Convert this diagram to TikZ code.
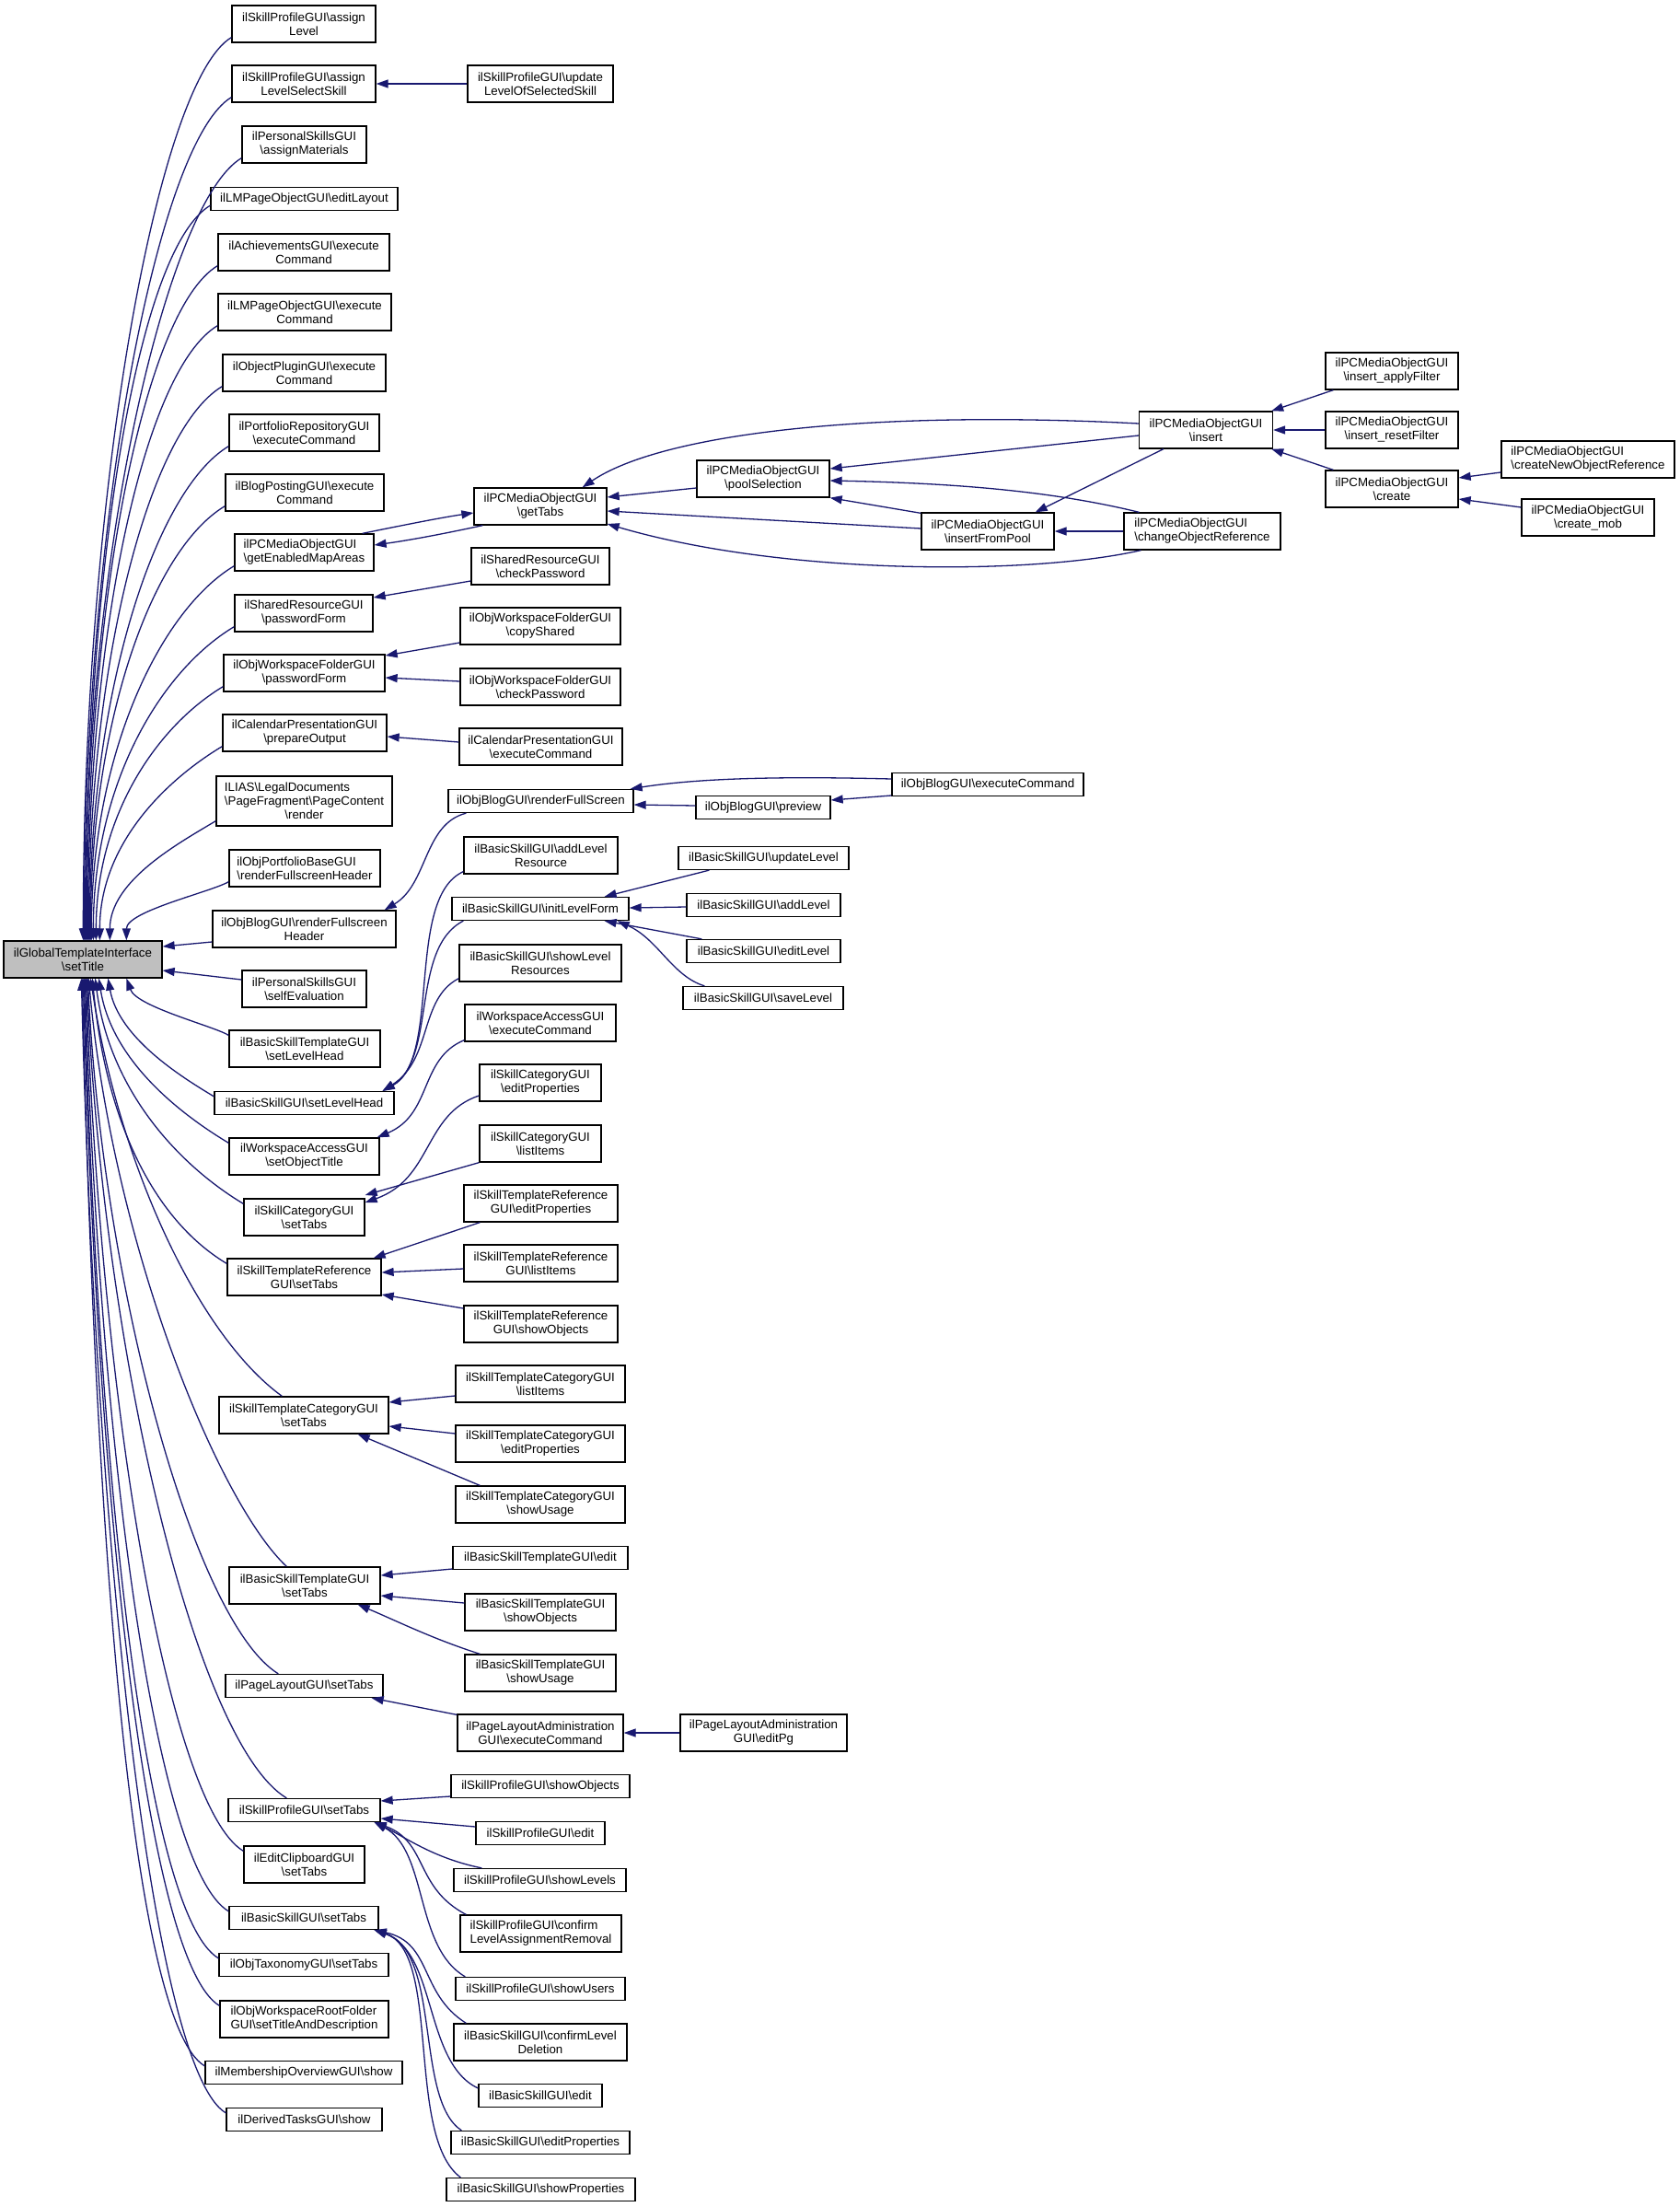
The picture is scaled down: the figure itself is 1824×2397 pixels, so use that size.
\documentclass[tikz,border=0pt]{standalone}
\usepackage{fontspec}
\setmainfont{Liberation Sans}
\usetikzlibrary{arrows.meta,calc}
\definecolor{eblue}{RGB}{25,25,112}
\definecolor{rootgray}{RGB}{191,191,191}
\newcommand{\bsh}{\textbackslash{}}
\newcommand{\upe}[3]{\draw[callarrow] let \p1=($(#1.south west)+(0,-6)$), \p2=($(root.north west)+(#2-4,0)$) in (\p1) .. controls ($(\p1)+(-#3,0.6*#3)$) and (\x2,{0.5*(\y1+\y2)}) .. (\p2);}
\newcommand{\dne}[3]{\draw[callarrow] let \p1=($(#1.north west)+(0,6)$), \p2=($(root.south west)+(#2-4,0)$) in (\p1) .. controls ($(\p1)+(-#3,-0.6*#3)$) and ({\x2+0.1*(\x1-\x2)},{0.5*(\y1+\y2)}) .. (\p2);}
\newcommand{\gne}[4]{\draw[callarrow] let \p1=(#1), \p2=($(root.south west)+(#3-4,0)$) in (\p1) .. controls ($(\p1)+#2$) and ({\x2+#4*(\x1-\x2)},{\y2+0.45*(\y1-\y2)}) .. (\p2);}
\begin{document}
\begin{tikzpicture}[x=1pt,y=-1pt,
  font=\fontsize{13.3}{15}\selectfont,
  nbox/.style={draw=black, line width=1.3pt, fill=white, inner xsep=2pt, inner ysep=0pt, align=center},
  lone/.style={nbox, minimum height=25},
  ltwo/.style={nbox, minimum height=40},
  lthree/.style={nbox, minimum height=54},
  callarrow/.style={draw=eblue, line width=1.3pt, -{Triangle[length=13pt,width=9pt]}}]
\fill[white] (0,0) rectangle (1824,2397);
\useasboundingbox (0,0) rectangle (1824,2397);

% column 2 (above root)
\node[ltwo, minimum width=156] (a1) at (330,26) {ilSkillProfileGUI\bsh assign\\Level};
\node[ltwo, minimum width=156] (a2) at (330,91) {ilSkillProfileGUI\bsh assign\\LevelSelectSkill};
\node[ltwo, minimum width=135] (a3) at (330.5,157) {ilPersonalSkillsGUI\\\bsh assignMaterials};
\node[lone, minimum width=203] (a4) at (330.5,216) {ilLMPageObjectGUI\bsh editLayout};
\node[ltwo, minimum width=186] (a5) at (330,274) {ilAchievementsGUI\bsh execute\\Command};
\node[ltwo, minimum width=188] (a6) at (331,339) {ilLMPageObjectGUI\bsh execute\\Command};
\node[ltwo, minimum width=177] (a7) at (330.5,405) {ilObjectPluginGUI\bsh execute\\Command};
\node[ltwo, minimum width=163] (a8) at (330.5,470) {ilPortfolioRepositoryGUI\\\bsh executeCommand};
\node[ltwo, minimum width=172] (a9) at (331,535) {ilBlogPostingGUI\bsh execute\\Command};
\node[ltwo, minimum width=151, align=left] (a10) at (330.5,600) {ilPCMediaObjectGUI\\\bsh getEnabledMapAreas};
\node[ltwo, minimum width=150] (a11) at (330,666) {ilSharedResourceGUI\\\bsh passwordForm};
\node[ltwo, minimum width=175] (a12) at (330.5,731) {ilObjWorkspaceFolderGUI\\\bsh passwordForm};
\node[ltwo, minimum width=178] (a13) at (331,796) {ilCalendarPresentationGUI\\\bsh prepareOutput};
\node[lthree, minimum width=191] (a14) at (330.5,870) {\rlap{ILIAS\bsh LegalDocuments}\phantom{\bsh PageFragment\bsh PageContent}\\\bsh PageFragment\bsh PageContent\\\bsh render};
\node[ltwo, minimum width=164, align=left] (a15) at (331,943) {ilObjPortfolioBaseGUI\\\bsh renderFullscreenHeader};
\node[ltwo, minimum width=199] (a16) at (330.5,1009) {ilObjBlogGUI\bsh renderFullscreen\\Header};

% root
\node[ltwo, minimum width=172, fill=rootgray] (root) at (90,1042) {ilGlobalTemplateInterface\\\bsh setTitle};

% column 2 (below root)
\node[ltwo, minimum width=135] (b1) at (330.5,1074) {ilPersonalSkillsGUI\\\bsh selfEvaluation};
\node[ltwo, minimum width=164] (b2) at (331,1139) {ilBasicSkillTemplateGUI\\\bsh setLevelHead};
\node[lone, minimum width=195] (b3) at (330.5,1198) {ilBasicSkillGUI\bsh setLevelHead};
\node[ltwo, minimum width=163] (b4) at (330.5,1256) {ilWorkspaceAccessGUI\\\bsh setObjectTitle};
\node[ltwo, minimum width=131] (b5) at (330.5,1322) {ilSkillCategoryGUI\\\bsh setTabs};
\node[ltwo, minimum width=167] (b6) at (330.5,1387) {ilSkillTemplateReference\\GUI\bsh setTabs};
\node[ltwo, minimum width=184] (b7) at (330,1537) {ilSkillTemplateCategoryGUI\\\bsh setTabs};
\node[ltwo, minimum width=164] (b8) at (331,1722) {ilBasicSkillTemplateGUI\\\bsh setTabs};
\node[lone, minimum width=171] (b9) at (330.5,1831) {ilPageLayoutGUI\bsh setTabs};
\node[lone, minimum width=165] (b10) at (330.5,1966) {ilSkillProfileGUI\bsh setTabs};
\node[ltwo, minimum width=131] (b11) at (330.5,2025) {ilEditClipboardGUI\\\bsh setTabs};
\node[lone, minimum width=162] (b12) at (330,2083) {ilBasicSkillGUI\bsh setTabs};
\node[lone, minimum width=184] (b13) at (330,2134) {ilObjTaxonomyGUI\bsh setTabs};
\node[ltwo, minimum width=183, align=left] (b14) at (330.5,2193) {ilObjWorkspaceRootFolder\\GUI\bsh setTitleAndDescription};
\node[lone, minimum width=214] (b15) at (330,2251) {ilMembershipOverviewGUI\bsh show};
\node[lone, minimum width=169] (b16) at (330.5,2302) {ilDerivedTasksGUI\bsh show};

% column 3
\node[ltwo, minimum width=158] (c1) at (587,91) {ilSkillProfileGUI\bsh update\\LevelOfSelectedSkill};
\node[ltwo, minimum width=144] (c2) at (587,550) {ilPCMediaObjectGUI\\\bsh getTabs};
\node[ltwo, minimum width=150] (c3) at (587,615) {ilSharedResourceGUI\\\bsh checkPassword};
\node[ltwo, minimum width=174] (c4) at (587,680) {ilObjWorkspaceFolderGUI\\\bsh copyShared};
\node[ltwo, minimum width=174] (c5) at (587,746) {ilObjWorkspaceFolderGUI\\\bsh checkPassword};
\node[ltwo, minimum width=177] (c6) at (587.5,811) {ilCalendarPresentationGUI\\\bsh executeCommand};
\node[lone, minimum width=201] (c7) at (587.5,870) {ilObjBlogGUI\bsh renderFullScreen};
\node[ltwo, minimum width=167] (c8) at (587.5,929) {ilBasicSkillGUI\bsh addLevel\\Resource};
\node[lone, minimum width=192] (c9) at (587,987) {ilBasicSkillGUI\bsh initLevelForm};
\node[ltwo, minimum width=176] (c10) at (587,1046) {ilBasicSkillGUI\bsh showLevel\\Resources};
\node[ltwo, minimum width=164] (c11) at (587,1111) {ilWorkspaceAccessGUI\\\bsh executeCommand};
\node[ltwo, minimum width=132] (c12) at (587,1176) {ilSkillCategoryGUI\\\bsh editProperties};
\node[ltwo, minimum width=132] (c13) at (587,1242) {ilSkillCategoryGUI\\\bsh listItems};
\node[ltwo, minimum width=167] (c14) at (587.5,1307) {ilSkillTemplateReference\\GUI\bsh editProperties};
\node[ltwo, minimum width=167] (c15) at (587.5,1372) {ilSkillTemplateReference\\GUI\bsh listItems};
\node[ltwo, minimum width=167] (c16) at (587.5,1438) {ilSkillTemplateReference\\GUI\bsh showObjects};
\node[ltwo, minimum width=184] (c17) at (587,1503) {ilSkillTemplateCategoryGUI\\\bsh listItems};
\node[ltwo, minimum width=184] (c18) at (587,1568) {ilSkillTemplateCategoryGUI\\\bsh editProperties};
\node[ltwo, minimum width=184] (c19) at (587,1634) {ilSkillTemplateCategoryGUI\\\bsh showUsage};
\node[lone, minimum width=190] (c20) at (587,1692) {ilBasicSkillTemplateGUI\bsh edit};
\node[ltwo, minimum width=164] (c21) at (587,1751) {ilBasicSkillTemplateGUI\\\bsh showObjects};
\node[ltwo, minimum width=164] (c22) at (587,1817) {ilBasicSkillTemplateGUI\\\bsh showUsage};
\node[ltwo, minimum width=180] (c23) at (587,1882) {ilPageLayoutAdministration\\GUI\bsh executeCommand};
\node[lone, minimum width=194] (c24) at (587,1940) {ilSkillProfileGUI\bsh showObjects};
\node[lone, minimum width=140] (c25) at (587,1991) {ilSkillProfileGUI\bsh edit};
\node[lone, minimum width=187] (c26) at (586.5,2042) {ilSkillProfileGUI\bsh showLevels};
\node[ltwo, minimum width=175, align=left] (c27) at (587.5,2100) {ilSkillProfileGUI\bsh confirm\\LevelAssignmentRemoval};
\node[lone, minimum width=184] (c28) at (587,2160) {ilSkillProfileGUI\bsh showUsers};
\node[ltwo, minimum width=188] (c29) at (587,2218) {ilBasicSkillGUI\bsh confirmLevel\\Deletion};
\node[lone, minimum width=134] (c30) at (587,2276) {ilBasicSkillGUI\bsh edit};
\node[lone, minimum width=194] (c31) at (587,2327) {ilBasicSkillGUI\bsh editProperties};
\node[lone, minimum width=205] (c32) at (587.5,2378) {ilBasicSkillGUI\bsh showProperties};

% column 4
\node[ltwo, minimum width=144] (d1) at (829,520) {ilPCMediaObjectGUI\\\bsh poolSelection};
\node[lone, minimum width=146] (d2) at (829,877) {ilObjBlogGUI\bsh preview};
\node[lone, minimum width=185] (d3) at (829.5,932) {ilBasicSkillGUI\bsh updateLevel};
\node[lone, minimum width=167] (d4) at (829.5,983) {ilBasicSkillGUI\bsh addLevel};
\node[lone, minimum width=167] (d5) at (829.5,1033) {ilBasicSkillGUI\bsh editLevel};
\node[lone, minimum width=174] (d6) at (829,1084) {ilBasicSkillGUI\bsh saveLevel};
\node[ltwo, minimum width=181] (d7) at (829.5,1882) {ilPageLayoutAdministration\\GUI\bsh editPg};

% column 5
\node[ltwo, minimum width=144] (e1) at (1073,577) {ilPCMediaObjectGUI\\\bsh insertFromPool};
\node[lone, minimum width=208] (e2) at (1073,852) {ilObjBlogGUI\bsh executeCommand};

% column 6
\node[ltwo, minimum width=145] (f1) at (1310,467) {ilPCMediaObjectGUI\\\bsh insert};
\node[ltwo, minimum width=170, align=left] (f2) at (1306,577) {ilPCMediaObjectGUI\\\bsh changeObjectReference};

% column 7
\node[ltwo, minimum width=144] (g1) at (1512,403) {ilPCMediaObjectGUI\\\bsh insert\_applyFilter};
\node[ltwo, minimum width=144] (g2) at (1512,467) {ilPCMediaObjectGUI\\\bsh insert\_resetFilter};
\node[ltwo, minimum width=144] (g3) at (1512,531) {ilPCMediaObjectGUI\\\bsh create};

% column 8
\node[ltwo, minimum width=188, align=left] (h1) at (1725,499) {ilPCMediaObjectGUI\\\bsh createNewObjectReference};
\node[ltwo, minimum width=144] (h2) at (1725,562) {ilPCMediaObjectGUI\\\bsh create\_mob};

% ---- edges into root (top side)
\upe{a1}{91}{80}
\upe{a2}{92}{80}
\upe{a3}{93}{80}
\upe{a4}{94}{80}
\upe{a5}{95}{80}
\upe{a6}{96}{80}
\upe{a7}{97}{80}
\upe{a8}{98}{80}
\upe{a9}{99}{80}
\upe{a10}{100}{80}
\upe{a11}{102}{80}
\upe{a12}{105}{70}
\upe{a13}{109}{60}
\upe{a14}{120}{40}
\upe{a15}{138}{18}
\draw[callarrow] ($(a16.west)+(0,14)$) -- ($(root.east)+(0,-14)$);
% ---- edges into root (bottom side)
\draw[callarrow] ($(b1.west)+(0,-10)$) -- ($(root.east)+(0,12)$);
\dne{b2}{138}{17}
\dne{b3}{118}{37}
\dne{b4}{108}{53}
\dne{b5}{104}{70}
\dne{b6}{101}{80}
\gne{$(b7.north west)+(69,0)$}{(-90,-65)}{99}{0.15}
\gne{$(b8.north west)+(63,0)$}{(-75,-70)}{97}{0.12}
\gne{$(b9.north west)+(58,0)$}{(-90,-55)}{96}{0.08}
\gne{$(b10.north west)+(64,0)$}{(-100,-60)}{95}{0.08}
\dne{b11}{94}{80}
\dne{b12}{93}{80}
\dne{b13}{92}{80}
\dne{b14}{91}{80}
\dne{b15}{90}{80}
\dne{b16}{89}{80}

% ---- column 3 -> column 2
\draw[callarrow] (c1.west) -- (a2.east);
\draw[callarrow] ($(a10.north east)+(-13,0)$) .. controls (440,570) and (480,562) .. ($(c2.west)+(0,7)$);
\draw[callarrow] ($(c2.south west)+(10,0)$) .. controls (490,578) and (450,586) .. ($(a10.east)+(0,-8)$);
\draw[callarrow] ($(c3.west)+(0,16)$) -- ($(a11.east)+(0,-17)$);
\draw[callarrow] ($(c4.west)+(0,18)$) -- ($(a12.east)+(0,-19)$);
\draw[callarrow] ($(c5.west)+(0,-6)$) -- ($(a12.east)+(0,5)$);
\draw[callarrow] ($(c6.west)+(0,-5)$) -- ($(a13.east)+(0,4)$);
\draw[callarrow] ($(c7.south west)+(20,0)$) .. controls (460,895) and (465,960) .. ($(a16.north east)+(-13,0)$);
\draw[callarrow] ($(c8.south west)+(0,-3)$) .. controls (440,975) and (480,1150) .. ($(b3.north east)+(-13,0)$);
\draw[callarrow] ($(c9.south west)+(13,0)$) .. controls (445,1030) and (475,1150) .. ($(b3.north east)+(-13,0)$);
\draw[callarrow] ($(c10.south west)+(0,-4)$) .. controls (455,1085) and (470,1150) .. ($(b3.north east)+(-13,0)$);
\draw[callarrow] ($(c11.south west)+(0,-2)$) .. controls (455,1150) and (470,1210) .. ($(b4.north east)+(-3,0)$);
\draw[callarrow] ($(c12.west)+(0,14)$) .. controls (460,1210) and (470,1280) .. ($(b5.east)+(0,-16)$);
\draw[callarrow] (c13.south west) -- ($(b5.east)+(0,-24)$);
\draw[callarrow] ($(c14.south west)+(18,0)$) -- ($(b6.north east)+(-9,0)$);
\draw[callarrow] ($(c15.west)+(0,6)$) -- ($(b6.east)+(0,-5)$);
\draw[callarrow] ($(c16.west)+(0,-17)$) -- ($(b6.east)+(0,19)$);
\draw[callarrow] ($(c17.west)+(0,13)$) -- ($(b7.east)+(0,-14)$);
\draw[callarrow] ($(c18.west)+(0,-11)$) -- ($(b7.east)+(0,12)$);
\draw[callarrow] ($(c19.north west)+(27,0)$) -- ($(b7.south east)+(-34,0)$);
\draw[callarrow] ($(c20.west)+(0,12)$) -- ($(b8.east)+(0,-11)$);
\draw[callarrow] ($(c21.west)+(0,-10)$) -- ($(b8.east)+(0,11)$);
\draw[callarrow] ($(c22.north west)+(17,0)$) .. controls (470,1780) and (430,1760) .. ($(b8.south east)+(-25,0)$);
\draw[callarrow] ($(c23.north west)+(0,1)$) -- ($(b9.south east)+(-13,0)$);
\draw[callarrow] (d7.west) -- (c23.east);
\draw[callarrow] ($(c24.west)+(0,11)$) -- ($(b10.east)+(0,-10)$);
\draw[callarrow] ($(c25.west)+(0,-7)$) -- ($(b10.east)+(0,9)$);
\draw[callarrow] ($(c26.north west)+(31,0)$) .. controls (470,2018) and (440,1995) .. ($(b10.south east)+(-7,0)$);
\draw[callarrow] ($(c27.north west)+(7,0)$) .. controls (450,2050) and (465,2000) .. ($(b10.south east)+(-7,0)$);
\draw[callarrow] ($(c28.north west)+(11,0)$) .. controls (450,2115) and (465,2010) .. ($(b10.south east)+(-7,0)$);
\draw[callarrow] ($(c29.north west)+(14,0)$) .. controls (455,2165) and (470,2110) .. ($(b12.south east)+(-5,0)$);
\draw[callarrow] ($(c30.west)+(0,-8)$) .. controls (460,2240) and (475,2120) .. ($(b12.south east)+(-5,0)$);
\draw[callarrow] ($(c31.north west)+(12,0)$) .. controls (450,2280) and (480,2120) .. ($(b12.south east)+(-5,0)$);
\draw[callarrow] ($(c32.north west)+(16,0)$) .. controls (440,2320) and (480,2120) .. ($(b12.south east)+(-5,0)$);

% ---- PCMedia group
\draw[callarrow] ($(d1.west)+(0,10)$) -- ($(c2.east)+(0,-10)$);
\draw[callarrow] ($(e1.west)+(0,-3)$) -- ($(c2.east)+(0,5)$);
\draw[callarrow] ($(f1.west)+(0,-7)$) .. controls (950,445) and (720,470) .. ($(c2.north east)+(-27,0)$);
\draw[callarrow] ($(f2.south west)+(19,0)$) .. controls (1120,625) and (850,625) .. ($(c2.east)+(0,19)$);
\draw[callarrow] ($(f1.west)+(0,6)$) -- ($(d1.east)+(0,-11)$);
\draw[callarrow] ($(f2.north west)+(17,0)$) .. controls (1150,535) and (1050,525) .. ($(d1.east)+(0,2)$);
\draw[callarrow] ($(e1.north west)+(0,1)$) -- (d1.south east);
\draw[callarrow] (f2.west) -- (e1.east);
\draw[callarrow] ($(f1.south west)+(27,0)$) -- ($(e1.north east)+(-21,0)$);
\draw[callarrow] ($(g1.south west)+(9,0)$) -- ($(f1.north east)+(-2,0)$);
\draw[callarrow] (g2.west) -- (f1.east);
\draw[callarrow] ($(g3.north west)+(9,0)$) -- ($(f1.south east)+(-2,0)$);
\draw[callarrow] ($(h1.west)+(0,14)$) -- ($(g3.east)+(0,-12)$);
\draw[callarrow] ($(h2.west)+(0,-11)$) -- ($(g3.east)+(0,11)$);

% ---- Blog group
\draw[callarrow] ($(e2.west)+(0,-6)$) .. controls (850,843) and (760,845) .. ($(c7.north east)+(-4,0)$);
\draw[callarrow] ($(d2.west)+(0,-2)$) -- ($(c7.east)+(0,4)$);
\draw[callarrow] ($(e2.west)+(0,12)$) -- ($(d2.east)+(0,-8)$);

% ---- initLevelForm group
\draw[callarrow] ($(d3.south west)+(34,0)$) -- ($(c9.north east)+(-27,0)$);
\draw[callarrow] ($(d4.west)+(0,2)$) -- ($(c9.east)+(0,-1)$);
\draw[callarrow] ($(d5.north west)+(17,0)$) -- ($(c9.south east)+(-27,0)$);
\draw[callarrow] ($(d6.north west)+(24,0)$) .. controls (730,1060) and (715,1020) .. ($(c9.south east)+(-13,0)$);
\end{tikzpicture}
\end{document}
